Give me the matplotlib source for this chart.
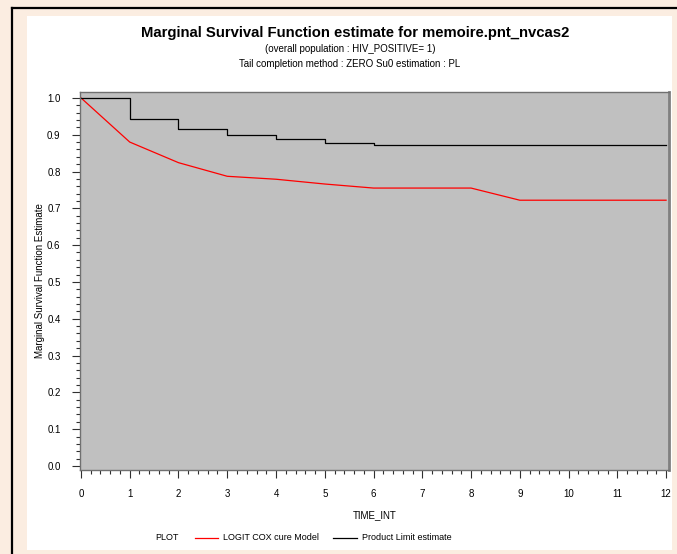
import matplotlib.pyplot as plt
import matplotlib.patches as patches
from matplotlib.lines import Line2D
from matplotlib.ticker import MultipleLocator

plt.rcParams['font.family'] = ['Liberation Sans', 'DejaVu Sans']

# data
time_int = [0, 1, 2, 3, 4, 5, 6, 7, 8, 9, 10, 11, 12]
logit_cox = [1.0, 0.880, 0.824, 0.787, 0.779, 0.766, 0.755, 0.755, 0.755, 0.722, 0.722, 0.722, 0.722]
pl_time = [0, 1, 2, 3, 4, 5, 6, 12]
pl_surv = [1.0, 0.942, 0.915, 0.899, 0.888, 0.877, 0.871, 0.871]

W, H = 677, 554
fig = plt.figure(figsize=(W / 100, H / 100), dpi=100)
fig.patch.set_facecolor('#FBEDE1')

# white panel and the black frame lines
fig.add_artist(patches.Rectangle((27 / W, 1 - 550 / H), (672 - 27) / W, (550 - 16) / H,
                                 transform=fig.transFigure, facecolor='white',
                                 edgecolor='none', zorder=0))
fig.add_artist(Line2D([12 / W, 12 / W], [0, 1 - 8 / H], transform=fig.transFigure,
                      color='black', lw=1.6))
fig.add_artist(Line2D([12 / W, 1], [1 - 8 / H, 1 - 8 / H], transform=fig.transFigure,
                      color='black', lw=1.6))

ax = fig.add_axes([80 / W, 1 - 470 / H, (669 - 80) / W, (470 - 92) / H])
ax.set_facecolor('#C0C0C0')

ax.plot(time_int, logit_cox, color='#FF0000', lw=0.9, label='LOGIT COX cure Model')
ax.plot(pl_time, pl_surv, color='black', lw=0.9, drawstyle='steps-post',
        label='Product Limit estimate')

ax.set_xlim(-0.02, 12.06)
ax.set_ylim(-0.011, 1.016)
ax.xaxis.set_major_locator(MultipleLocator(1))
ax.xaxis.set_minor_locator(MultipleLocator(0.2))
ax.yaxis.set_major_locator(MultipleLocator(0.1))
ax.yaxis.set_minor_locator(MultipleLocator(0.02))
ax.set_yticklabels([f'{v:.1f}' for v in ax.get_yticks()])
ax.tick_params(which='major', length=6, width=0.8, labelsize=7, color='#303030', pad=8)
ax.tick_params(which='minor', length=3, width=0.8, color='#303030')
for s in ax.spines.values():
    s.set_color('#707070')
    s.set_linewidth(1.0)
ax.spines['right'].set_linewidth(2.0)
ax.spines['right'].set_color('#808080')

ax.set_xlabel('TIME_INT', fontsize=7, labelpad=8)
ax.set_ylabel('Marginal Survival Function Estimate', fontsize=7, labelpad=1.5)

fig.text(355 / W, 1 - 33 / H, 'Marginal Survival Function estimate for memoire.pnt_nvcas2',
         ha='center', va='center', fontsize=10.7, fontweight='bold')
fig.text(350 / W, 1 - 49 / H, '(overall population : HIV_POSITIVE= 1)',
         ha='center', va='center', fontsize=7)
fig.text(350 / W, 1 - 64 / H, 'Tail completion method : ZERO Su0 estimation : PL',
         ha='center', va='center', fontsize=7)

# legend row
ly = 1 - 538 / H
fig.text(155 / W, ly, 'PLOT', ha='left', va='center', fontsize=6.5)
fig.add_artist(Line2D([195 / W, 218 / W], [ly, ly], transform=fig.transFigure,
                      color='#FF0000', lw=0.9))
fig.text(223 / W, ly, 'LOGIT COX cure Model', ha='left', va='center', fontsize=6.5)
fig.add_artist(Line2D([333 / W, 357 / W], [ly, ly], transform=fig.transFigure,
                      color='black', lw=0.9))
fig.text(362 / W, ly, 'Product Limit estimate', ha='left', va='center', fontsize=6.5)

fig.savefig('out.png', dpi=100, facecolor=fig.get_facecolor())
